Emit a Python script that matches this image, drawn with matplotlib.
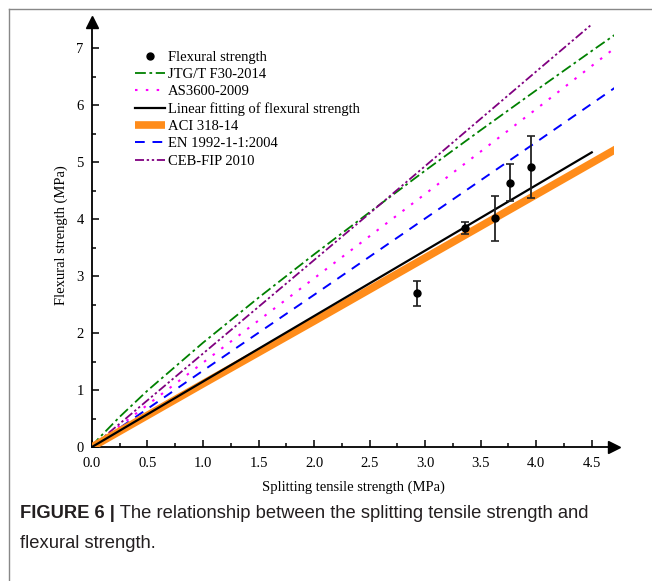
import matplotlib
matplotlib.use("Agg")
import matplotlib.pyplot as plt
from matplotlib.lines import Line2D

# measured points (splitting tensile, flexural, error)
test_x = [2.93, 3.36, 3.63, 3.76, 3.95]
test_y = [2.70, 3.84, 4.01, 4.64, 4.91]
test_err = [0.22, 0.10, 0.40, 0.33, 0.54]

fit_x = [0.0, 4.5]
fit_y = [0.0, 5.17]

# code curves
jtg_x = [0, 0.05, 0.25, 0.5, 1.0, 1.5, 2.0, 2.5, 3.0, 3.5, 4.0, 4.5, 4.72]
jtg_y = [0, 0.13, 0.53, 0.99, 1.83, 2.62, 3.38, 4.12, 4.85, 5.56, 6.26, 6.95, 7.25]

as_x = [0, 1.0, 2.0, 3.0, 4.0, 4.72]
as_y = [0, 1.48, 2.96, 4.44, 5.93, 7.02]

aci_x = [0, 1.0, 2.0, 3.0, 4.0, 4.72]
aci_y = [0, 1.11, 2.21, 3.32, 4.43, 5.23]

en_x = [0, 1.0, 2.0, 3.0, 4.0, 4.72]
en_y = [0, 1.34, 2.67, 4.01, 5.35, 6.32]

ceb_x = [0, 0.5, 1.0, 1.5, 2.0, 2.5, 3.0, 3.5, 4.0, 4.49]
ceb_y = [0, 0.82, 1.64, 2.46, 3.28, 4.10, 4.93, 5.76, 6.59, 7.40]

plt.rcParams["font.family"] = ["Liberation Serif", "DejaVu Serif"]

fig = plt.figure(figsize=(6.52, 5.81), dpi=100)
ax = fig.add_axes([0.141, 0.2306, 0.8007, 0.7308])

ax.errorbar(test_x, test_y, yerr=test_err, fmt="none", ecolor="#222222",
            elinewidth=1.3, capsize=3, capthick=1.2, zorder=6)
h_pts, = ax.plot(test_x, test_y, "o", color="black", ms=5, zorder=7,
                 label="Flexural strength")
h_jtg, = ax.plot(jtg_x, jtg_y, color="#008000", lw=1.3, dashes=(6, 2, 1.5, 2),
                 label="JTG/T F30-2014")
h_as, = ax.plot(as_x, as_y, color="#FF00FF", lw=1.5, dashes=(1.2, 4),
                label="AS3600-2009")
h_fit, = ax.plot(fit_x, fit_y, color="black", lw=1.6,
                 label="Linear fitting of flexural strength", zorder=5)
h_aci, = ax.plot(aci_x, aci_y, color="#FF8C1A", lw=5.5, solid_capstyle="butt",
                 label="ACI 318-14", zorder=4)
h_en, = ax.plot(en_x, en_y, color="#0000FF", lw=1.4, dashes=(5, 4),
                label="EN 1992-1-1:2004")
h_ceb, = ax.plot(ceb_x, ceb_y, color="#800080", lw=1.3,
                 dashes=(5, 1.5, 1.3, 1.5, 1.3, 1.5), label="CEB-FIP 2010")

ax.set_xlim(0, 4.7)
ax.set_ylim(0, 7.45)
ax.set_xticks([0, 0.5, 1.0, 1.5, 2.0, 2.5, 3.0, 3.5, 4.0, 4.5])
ax.set_xticklabels(["0.0", "0.5", "1.0", "1.5", "2.0", "2.5", "3.0", "3.5", "4.0", "4.5"])
ax.set_xticks([0.25 + 0.5 * i for i in range(9)], minor=True)
ax.set_yticks(range(8))
ax.set_yticks([0.5 + i for i in range(7)], minor=True)
ax.tick_params(which="both", direction="in", labelsize=10.5, width=1.1, color="black")
ax.tick_params(which="major", length=5)
ax.tick_params(which="minor", length=3)
ax.tick_params(axis="x", which="major", pad=7)
ax.tick_params(axis="y", which="major", pad=6)
for s in ["top", "right"]:
    ax.spines[s].set_visible(False)
for s in ["left", "bottom"]:
    ax.spines[s].set_linewidth(1.3)
ax.plot(1.0, 0, ">k", ms=9, transform=ax.get_yaxis_transform(), clip_on=False)
ax.plot(0, 1.0, "^k", ms=9, transform=ax.get_xaxis_transform(), clip_on=False)

ax.set_xlabel("Splitting tensile strength (MPa)", fontsize=10.5, labelpad=8)
ax.set_ylabel("Flexural strength (MPa)", fontsize=10.5, labelpad=6)

ax.legend(handles=[h_pts, h_jtg, h_as, h_fit, h_aci, h_en, h_ceb],
          loc="upper left", bbox_to_anchor=(0.068, 0.95), frameon=False,
          fontsize=10.5, handlelength=2.1, handletextpad=0.2, labelspacing=0.27,
          borderpad=0)

# page frame
fig.add_artist(Line2D([9 / 652, 1], [1 - 9 / 581, 1 - 9 / 581], color="#888888", lw=1))
fig.add_artist(Line2D([9 / 652, 9 / 652], [0, 1 - 9 / 581], color="#888888", lw=1))

cap_font = ["Liberation Sans", "DejaVu Sans"]
t = fig.text(20 / 652, 1 - 513 / 581, "FIGURE 6 |", fontsize=13.2, fontweight="bold",
             family=cap_font, va="center", color="#231F20")
ax.annotate(" The relationship between the splitting tensile strength and",
            xy=(1, 0), xycoords=t, va="bottom", ha="left", fontsize=13.2,
            family=cap_font, color="#231F20")
fig.text(20 / 652, 1 - 544 / 581, "flexural strength.", fontsize=13.2,
         family=cap_font, va="center", color="#231F20")

fig.savefig("out.png", dpi=100)
